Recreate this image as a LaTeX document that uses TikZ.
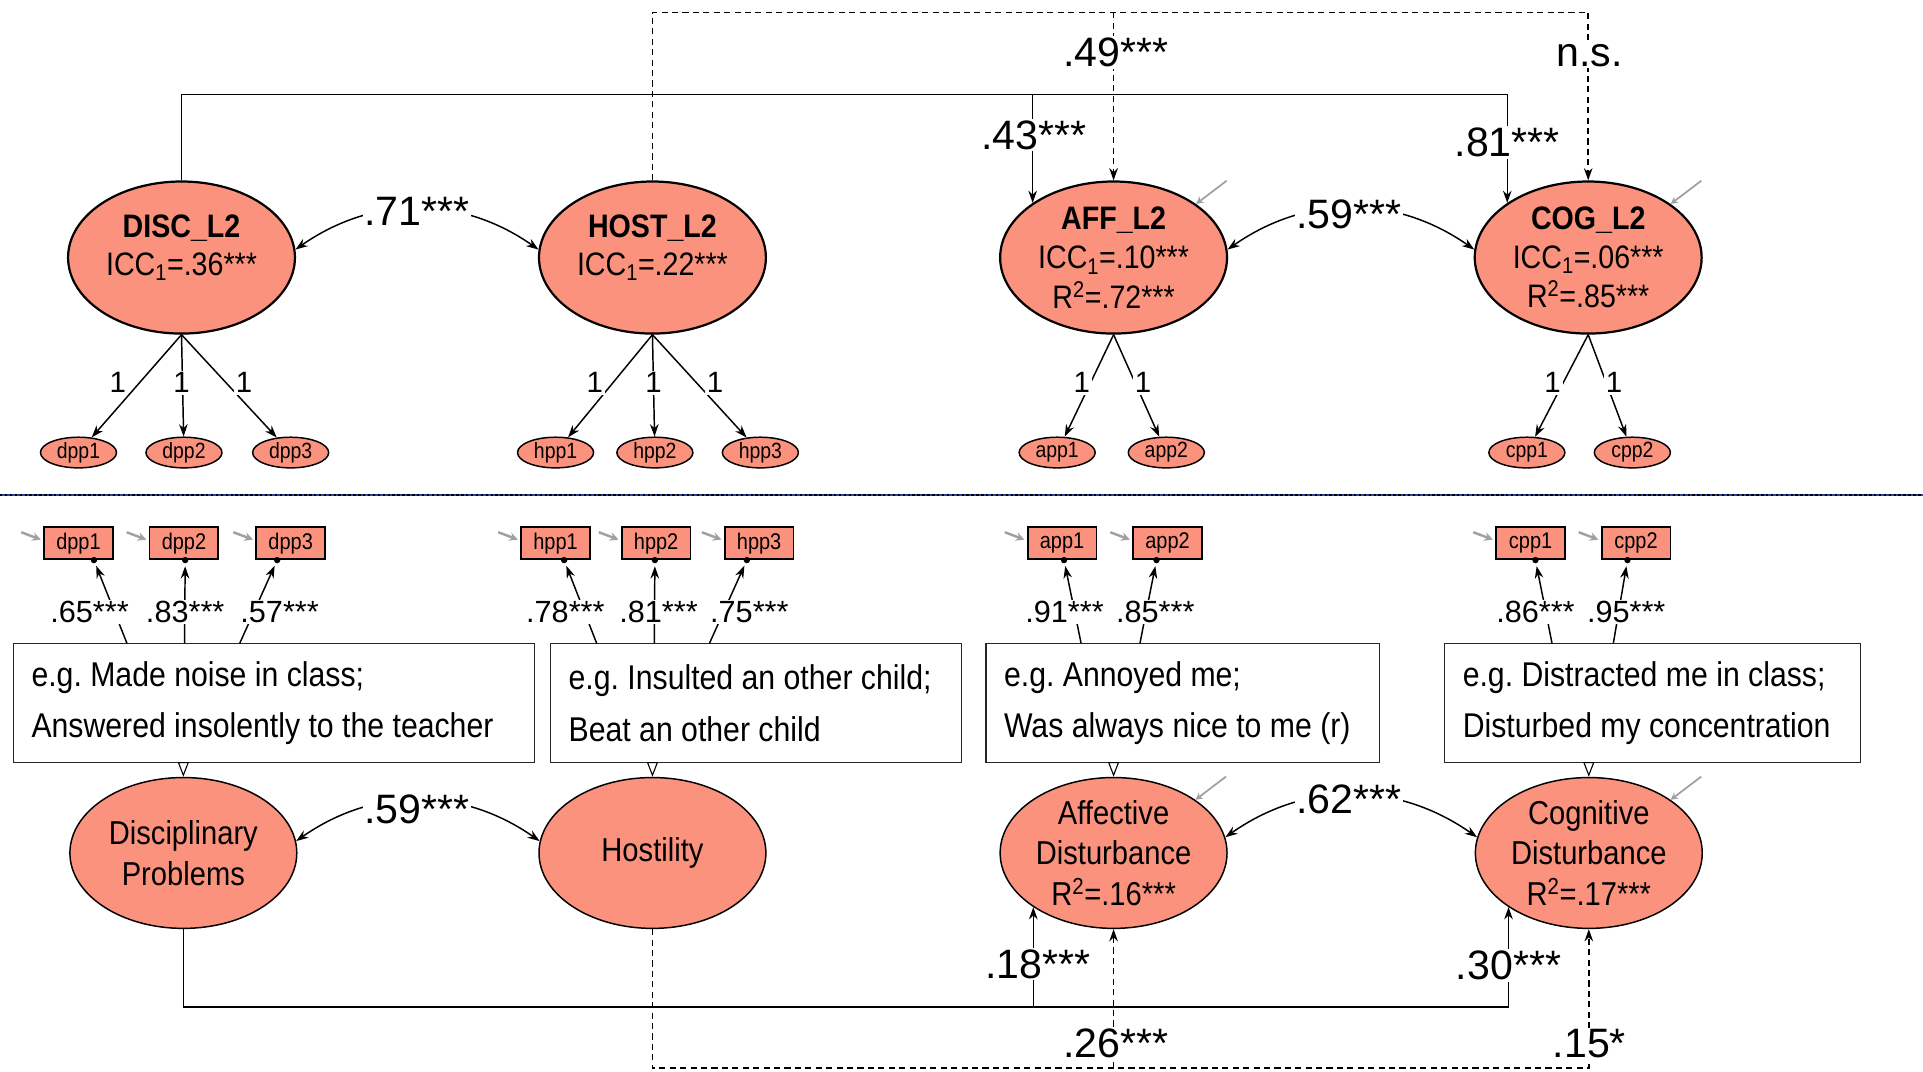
\documentclass[tikz,border=0pt]{standalone}
\usepackage{fontspec}
\setmainfont{Liberation Sans}[FakeStretch=0.88]
\newfontfamily\numfont{Liberation Sans}
\usetikzlibrary{shapes.geometric,arrows.meta,calc}
\definecolor{salm}{RGB}{250,146,126}
\definecolor{sepblue}{RGB}{40,70,170}
\definecolor{garrow}{RGB}{160,160,160}
\newcommand\myload[4]{%
  \coordinate (tmpd) at ($(#3.south)+(#4,0)$);
  \draw[arr,shorten >=5pt] ($(#1.north west)+(#2,0)$) -- (tmpd);
  \fill (tmpd) circle (2.6pt);}
\begin{document}
\begin{tikzpicture}[x=1pt,y=-1pt,
 lat/.style={ellipse,draw,fill=salm,line width=1.8pt,minimum width=185pt,minimum height=124pt,inner sep=0pt,align=center,font=\fontsize{26.5}{32}\selectfont},
 latb/.style={ellipse,draw,fill=salm,line width=1.2pt,minimum width=185pt,minimum height=123pt,inner sep=0pt,align=center,font=\fontsize{27}{33}\selectfont},
 lattxt/.style={align=center,inner sep=0pt,font=\fontsize{26.5}{31}\selectfont},
 ind/.style={ellipse,draw,fill=salm,line width=1.2pt,minimum width=62pt,minimum height=25pt,inner sep=0pt,font=\fontsize{18}{18}\selectfont},
 obs/.style={rectangle,draw,fill=salm,line width=1.4pt,minimum width=56pt,minimum height=26pt,inner sep=0pt,font=\fontsize{18.5}{18.5}\selectfont},
 tbox/.style={rectangle,draw=black!85,line width=1pt,minimum height=97pt,inner sep=0pt},
 btxt/.style={anchor=west,align=left,inner sep=0pt,font=\fontsize{28}{42}\selectfont},
 big/.style={fill=white,inner sep=1.5pt,font=\numfont\fontsize{33.5}{33.5}\selectfont},
 ld/.style={fill=white,inner sep=1pt,font=\numfont\fontsize{25}{25}\selectfont},
 one/.style={fill=white,inner sep=1.5pt,font=\numfont\fontsize{24}{24}\selectfont},
 arr/.style={line width=1.2pt,-{Stealth[length=10pt,width=7pt]}},
 biarr/.style={line width=1.2pt,{Stealth[length=10pt,width=7pt]}-{Stealth[length=10pt,width=7pt]}},
 dsh/.style={line width=1.1pt,dash pattern=on 5pt off 3.5pt},
 garr/.style={draw=garrow,line width=1.4pt,-{Stealth[length=6pt,width=6pt]}},
 garrb/.style={draw=garrow,line width=2pt,-{Stealth[length=7pt,width=7pt]}},
 varr/.style={line width=0.9pt,-{Triangle[open,length=12pt,width=9pt]}},
]
\useasboundingbox (0,0) rectangle (1568,874);
\fill[white] (0,0) rectangle (1568,874);

% ---------------- top: between level ----------------
\node[lat] (DISC) at (148,210) {};
\node[lattxt] (DISCt) at (148,202) {\textbf{DISC\_L2}\\ICC\textsubscript{1}=.36***};
\node[lat] (HOST) at (532,210) {};
\node[lattxt] (HOSTt) at (532,202) {\textbf{HOST\_L2}\\ICC\textsubscript{1}=.22***};
\node[lat] (AFF) at (908,210) {\textbf{AFF\_L2}\\ICC\textsubscript{1}=.10***\\R\textsuperscript{2}=.72***};
\node[lat] (COG) at (1295,210) {\textbf{COG\_L2}\\ICC\textsubscript{1}=.06***\\R\textsuperscript{2}=.85***};

\node[ind] (d1) at (64,369) {dpp1};
\node[ind] (d2) at (150,369) {dpp2};
\node[ind] (d3) at (237,369) {dpp3};
\node[ind] (h1) at (453,369) {hpp1};
\node[ind] (h2) at (534,369) {hpp2};
\node[ind] (h3) at (620,369) {hpp3};
\node[ind] (a1) at (862,369) {app1};
\node[ind] (a2) at (951,369) {app2};
\node[ind] (c1) at (1245,369) {cpp1};
\node[ind] (c2) at (1331,369) {cpp2};

\foreach \s/\t in {DISC/d1,DISC/d2,DISC/d3,HOST/h1,HOST/h2,HOST/h3,AFF/a1,AFF/a2,COG/c1,COG/c2}
  \draw[arr] (\s.south) -- (\t);
\node[one] (o1) at (96,312) {1};
\node[one] (o2) at (148,312) {1};
\node[one] (o3) at (199,312) {1};
\node[one] (o4) at (485,312) {1};
\node[one] (o5) at (533,312) {1};
\node[one] (o6) at (583,312) {1};
\node[one] (o7) at (882,312) {1};
\node[one] (o8) at (932,312) {1};
\node[one] (o9) at (1266,312) {1};
\node[one] (o10) at (1316,312) {1};

\coordinate (ydash) at (0,10);
\coordinate (ytop) at (0,77);
\draw[dsh,arr] (HOST.north) -- (HOST.north |- ydash) -| (COG.north);
\draw[dsh,arr] (AFF.north |- ydash) -- (AFF.north);
\draw[arr] (DISC.north) -- (DISC.north |- ytop) -| (AFF.146);
\draw[arr] (DISC.north |- ytop) -| (COG.146);
\draw[biarr] (DISC.4) to[bend left=35] (HOST.176);
\draw[biarr] (AFF.4) to[bend left=35] (COG.176);
\draw[garr] (AFF.33) ++(25,-19) -- (AFF.33);
\draw[garr] (COG.33) ++(25,-19) -- (COG.33);

\node[big] (L49) at (910,43) {.49***};
\node[big] (Lns) at (1296,45) {n.s.};
\node[big] (L43) at (843,110) {.43***};
\node[big] (L81) at (1229,116) {.81***};
\node[big] (L71) at (340,172) {.71***};
\node[big] (L59a) at (1100,175) {.59***};

% separator
\draw[sepblue,line width=1.6pt] (0,404) -- (1568,404);
\draw[black,line width=1.6pt,dash pattern=on 2pt off 2pt] (0,404) -- (1568,404);

% ---------------- bottom: within level ----------------
\node[obs] (r1) at (64,443) {dpp1};
\node[obs] (r2) at (150,443) {dpp2};
\node[obs] (r3) at (237,443) {dpp3};
\node[obs] (r4) at (453,443) {hpp1};
\node[obs] (r5) at (535,443) {hpp2};
\node[obs] (r6) at (619,443) {hpp3};
\node[obs] (r7) at (866,443) {app1};
\node[obs] (r8) at (952,443) {app2};
\node[obs] (r9) at (1248,443) {cpp1};
\node[obs] (r10) at (1334,443) {cpp2};
\foreach \r in {r1,r2,r3,r4,r5,r6,r7,r8,r9,r10}
  \draw[garrb] (\r.west) ++(-18,-9) -- ++(16,6);

\node[tbox,minimum width=425pt] (B1) at (223.5,573.5) {};
\node[tbox,minimum width=335pt] (B2) at (616.5,573.5) {};
\node[tbox,minimum width=321pt] (B3) at (964.5,573.5) {};
\node[tbox,minimum width=339pt] (B4) at (1347.5,573.5) {};
\node[btxt] (B1t) at ($(B1.west)+(15,0)$) {e.g.\ Made noise in class;\\Answered insolently to the teacher};
\node[btxt] (B2t) at ($(B2.west)+(15,0)$) {e.g.\ Insulted an other child;\\Beat an other child};
\node[btxt] (B3t) at ($(B3.west)+(15,0)$) {e.g.\ Annoyed me;\\Was always nice to me (r)};
\node[btxt] (B4t) at ($(B4.west)+(15,0)$) {e.g.\ Distracted me in class;\\Disturbed my concentration};

\myload{B1}{93}{r1}{12.6}
\myload{B1}{140}{r2}{1}
\myload{B1}{185}{r3}{-11}
\myload{B2}{38}{r4}{7}
\myload{B2}{85}{r5}{-1}
\myload{B2}{130}{r6}{-10}
\myload{B3}{78}{r7}{1.6}
\myload{B3}{126}{r8}{-9}
\myload{B4}{88}{r9}{4}
\myload{B4}{138}{r10}{-7}

\node[ld] (l65) at (73,499) {.65***};
\node[ld] (l83) at (151,499) {.83***};
\node[ld] (l57) at (228,499) {.57***};
\node[ld] (l78) at (461,499) {.78***};
\node[ld] (l81) at (537,499) {.81***};
\node[ld] (l75) at (611,499) {.75***};
\node[ld] (l91) at (868,499) {.91***};
\node[ld] (l85) at (942,499) {.85***};
\node[ld] (l86) at (1252,499) {.86***};
\node[ld] (l95) at (1326,499) {.95***};

\node[latb] (Disc) at (149.5,695.5) {Disciplinary\\Problems};
\node[latb] (Host) at (532,695.5) {Hostility};
\node[latb] (Aff) at (908,695.5) {Affective\\Disturbance\\R\textsuperscript{2}=.16***};
\node[latb] (Cog) at (1295.5,695.5) {Cognitive\\Disturbance\\R\textsuperscript{2}=.17***};

\draw[varr] (Disc.north |- B1.south) -- (Disc.north);
\draw[varr] (Host.north |- B2.south) -- (Host.north);
\draw[varr] (Aff.north |- B3.south) -- (Aff.north);
\draw[varr] (Cog.north |- B4.south) -- (Cog.north);

\draw[biarr] (Disc.6) to[bend left=35] (Host.174);
\draw[biarr] (Aff.8) to[bend left=35] (Cog.172);
\draw[garr] (Aff.33) ++(25,-19) -- (Aff.33);
\draw[garr] (Cog.33) ++(25,-19) -- (Cog.33);

\coordinate (ysol) at (0,821);
\coordinate (ybot) at (0,871);
\draw[arr] (Disc.south) -- (Disc.south |- ysol) -| (Aff.214);
\draw[arr] (Disc.south |- ysol) -| (Cog.214);
\draw[dsh,arr] (Host.south) -- (Host.south |- ybot) -| (Cog.south);
\draw[dsh,arr] (Aff.south |- ybot) -- (Aff.south);

\node[big] (L59b) at (340,660) {.59***};
\node[big] (L62) at (1100,652) {.62***};
\node[big] (L18) at (846,786) {.18***};
\node[big] (L30) at (1230,787) {.30***};
\node[big] (L26) at (910,851) {.26***};
\node[big] (L15) at (1296,851) {.15*};
\end{tikzpicture}
\end{document}
